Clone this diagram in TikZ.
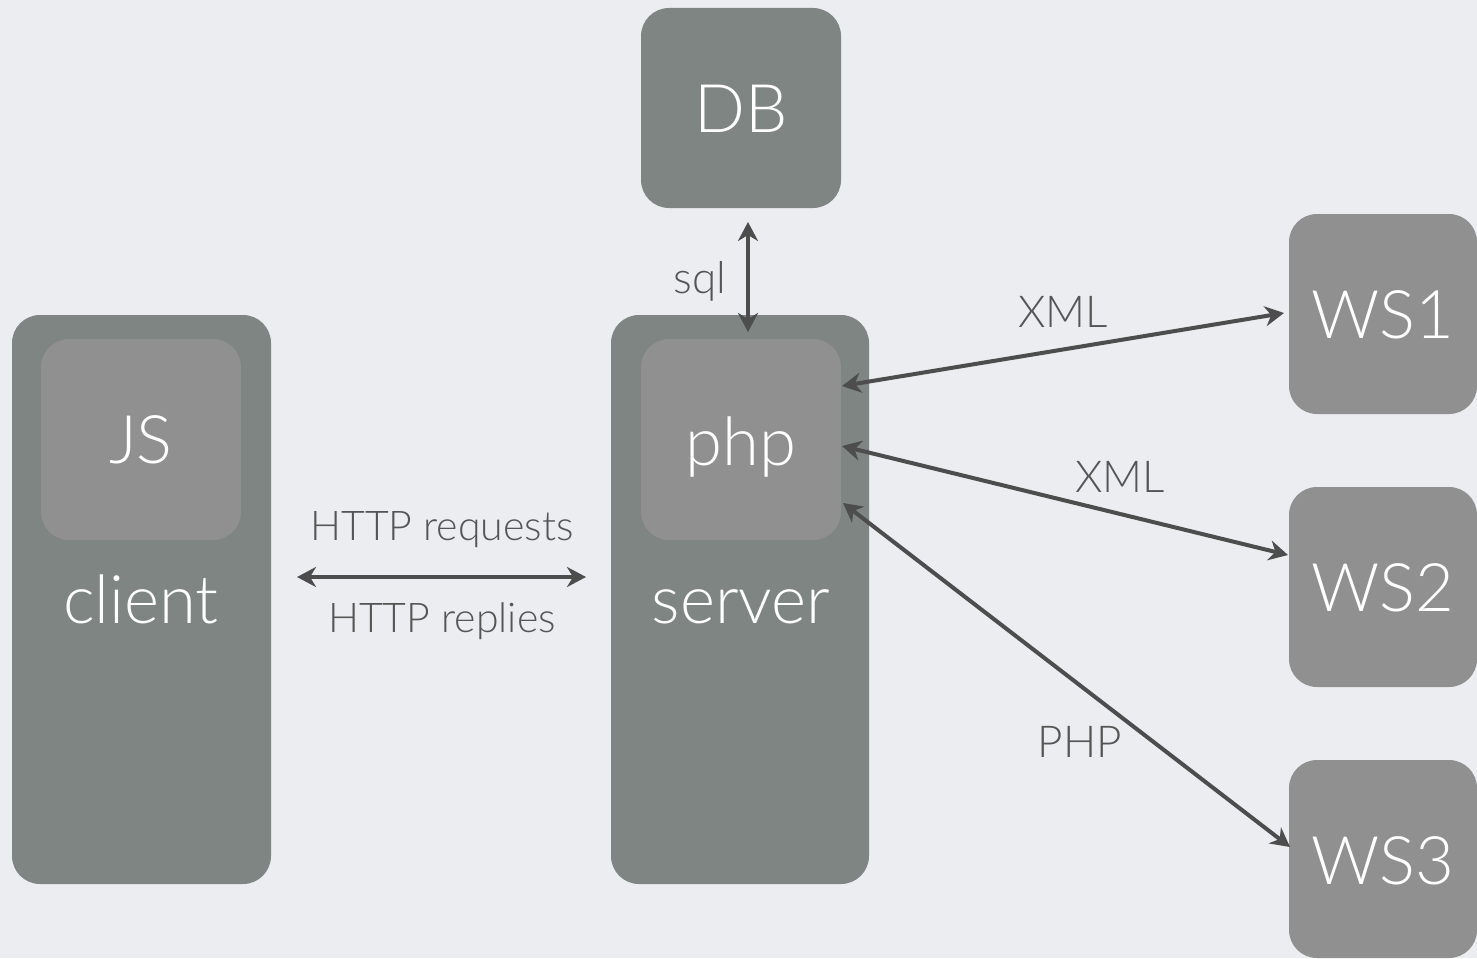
\documentclass[tikz,border=0pt]{standalone}
\usepackage{fontspec}
\setmainfont{Lato Light}
\usetikzlibrary{arrows.meta}
\definecolor{bg}{HTML}{ECEDF0}
\definecolor{outerc}{HTML}{7F8582}
\definecolor{innerc}{HTML}{909090}
\definecolor{arrc}{HTML}{4D4D4D}
\definecolor{lblc}{HTML}{555555}
\begin{document}
\begin{tikzpicture}[x=1pt,y=-1pt,
  box/.style={draw=none, rounded corners=28pt, inner sep=0pt, outer sep=0pt},
  outerbox/.style={box, fill=outerc},
  innerbox/.style={box, fill=innerc},
  big/.style={text=white, font=\fontsize{67}{67}\selectfont, anchor=base, inner sep=0pt},
  small/.style={text=lblc, font=\fontsize{44}{44}\selectfont, anchor=base, inner sep=0pt},
  smaller/.style={text=lblc, font=\fontsize{41}{41}\selectfont, anchor=base, inner sep=0pt},
  link/.style={draw=arrc, line width=4pt, {Stealth[length=19pt,width=20pt,inset=6pt]}-{Stealth[length=19pt,width=20pt,inset=6pt]}}]
\fill[bg] (0,0) rectangle (1477,958);
\useasboundingbox (0,0) rectangle (1477,958);
% boxes
\node[outerbox, minimum width=259pt, minimum height=569pt] (client) at (141.5,599.5) {};
\node[innerbox, minimum width=200pt, minimum height=201pt] (js) at (141,439.5) {};
\node[outerbox, minimum width=258pt, minimum height=569pt] (server) at (740,599.5) {};
\node[innerbox, minimum width=200pt, minimum height=201pt] (php) at (741,439.5) {};
\node[outerbox, minimum width=200pt, minimum height=200pt] (db) at (741,108) {};
\node[innerbox, minimum width=188pt, minimum height=200pt] (ws1) at (1383,314) {};
\node[innerbox, minimum width=188pt, minimum height=200pt] (ws2) at (1383,587) {};
\node[innerbox, minimum width=188pt, minimum height=198pt] (ws3) at (1383,859) {};
% box texts
\node[big] (dbtext) at (741,132) {DB};
\node[big] (jstext) at (141,463) {JS};
\node[big] (clienttext) at (141,623) {client};
\node[big] (phptext) at (741,465) {php};
\node[big] (servertext) at (741,623) {server};
\node[big] (ws1text) at (1383,338) {WS1};
\node[big] (ws2text) at (1383,611) {WS2};
\node[big] (ws3text) at (1383,884) {WS3};
% connector labels
\node[smaller] (httpreq) at (442,540) {HTTP requests};
\node[smaller] (httprep) at (442,632) {HTTP replies};
\node[small] (sqllbl) at (700,293) {sql};
\node[small] (xml1lbl) at (1063,327) {XML};
\node[small] (xml2lbl) at (1120,492) {XML};
\node[small] (phplbl) at (1080,757) {PHP};
% connectors
\draw[link] ([xshift=7pt,yshift=-14pt]db.south) -- ([xshift=8pt,yshift=-17pt]server.north);
\draw[link] ([xshift=26pt,yshift=22.5pt]client.east) -- ([xshift=-25pt,yshift=22.5pt]server.west);
\draw[link] ([xshift=1pt,yshift=53.5pt]php.east) -- ([xshift=-5pt,yshift=1pt]ws1.west);
\draw[link] ([xshift=1pt,yshift=-6.5pt]php.east) -- ([xshift=-1pt,yshift=32pt]ws2.west);
\draw[link] ([xshift=2pt,yshift=-63.5pt]php.east) -- ([xshift=1pt,yshift=12pt]ws3.west);
\end{tikzpicture}
\end{document}
